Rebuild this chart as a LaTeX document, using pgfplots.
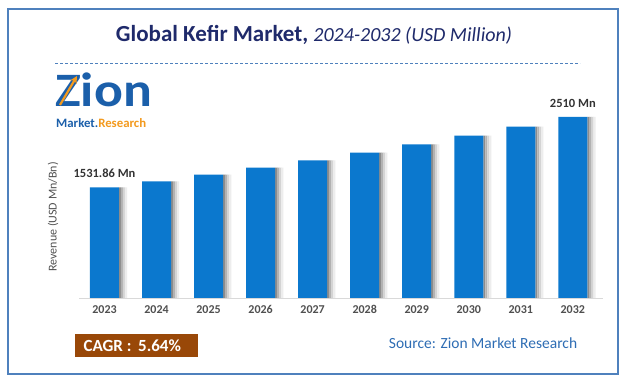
\documentclass[border=0pt]{standalone}
\usepackage{fontspec}
\setmainfont{Carlito}
\usepackage{pgfplots}
\pgfplotsset{compat=1.18}
\definecolor{barblue}{HTML}{0B78CE}
\definecolor{titlenavy}{HTML}{1F2A6B}
\definecolor{borderblue}{HTML}{4F81BD}
\definecolor{srcblue}{HTML}{2E6DB4}
\definecolor{cagrbrown}{HTML}{994808}
\definecolor{logoblue}{HTML}{1B5FAA}
\definecolor{logoorange}{HTML}{F39A1E}
\definecolor{ticklab}{HTML}{505050}
\pgfplotstableread{
year value
2023 1531.86
2024 1618.2
2025 1709.5
2026 1805.9
2027 1907.8
2028 2015.4
2029 2129.1
2030 2249.2
2031 2376.0
2032 2510
}\kefir
\usepackage{pgfplotstable}
\begin{document}
\begin{tikzpicture}[x=1pt,y=1pt]
\useasboundingbox (0,0) rectangle (624,382);
\fill[white] (0,0) rectangle (624,382);
\draw[borderblue, line width=1.1pt] (8,373) rectangle (618,8);
% title
\node[font=\fontsize{23}{26}\selectfont, text=titlenavy] at (314,347)
  {\textbf{Global Kefir Market,} \fontsize{20}{24}\selectfont\itshape 2024-2032 (USD Million)};
\draw[borderblue, dashed, dash pattern=on 3pt off 2pt, line width=0.6pt] (55,319) -- (580,319);
% logo
\node[anchor=base west, inner sep=0, font=\fontsize{48}{48}\selectfont\bfseries, text=logoblue] at (55,275) {\scalebox{1.12}[1]{Zion}};
\draw[logoorange, line width=2.2pt, -stealth] (60,277) -- (77,306);
\node[anchor=base west, inner sep=0, font=\fontsize{12.8}{14}\selectfont\bfseries] at (56,254)
  {\textcolor{logoblue}{Market.}\textcolor{logoorange}{Research}};
% y label
\node[rotate=90, font=\fontsize{12}{14}\selectfont, text=ticklab] at (53,165) {Revenue (USD Mn/Bn)};
% CAGR box
\fill[cagrbrown] (75,25) rectangle (198,48);
\node[anchor=west, font=\fontsize{17}{20}\selectfont\bfseries, text=white] at (80,36.5) {CAGR :\, 5.64\%};
% source
\node[font=\fontsize{15.5}{18}\selectfont, text=srcblue] at (483,39) {Source: Zion Market Research};
\begin{axis}[
  at={(79pt,84pt)}, anchor=south west,
  scale only axis, width=524pt, height=202pt,
  xmin=2022.51, xmax=2032.58, ymin=0, ymax=2800,
  axis y line=none, axis x line*=bottom,
  axis line style={draw=black!15, line width=0.8pt, -},
  xtick={2023,2024,2025,2026,2027,2028,2029,2030,2031,2032},
  xticklabels={2023,2024,2025,2026,2027,2028,2029,2030,2031,2032},
  major tick length=0pt,
  xticklabel style={font=\fontsize{12}{14}\selectfont\bfseries, text=ticklab, yshift=-4pt},
  clip=false,
]
\addplot[ybar, bar width=2.2pt, bar shift=15.6pt, draw=none, fill=black!45] table[x=year,y=value] {\kefir};
\addplot[ybar, bar width=2.2pt, bar shift=17.6pt, draw=none, fill=black!30] table[x=year,y=value] {\kefir};
\addplot[ybar, bar width=2.2pt, bar shift=19.6pt, draw=none, fill=black!17] table[x=year,y=value] {\kefir};
\addplot[ybar, bar width=2.2pt, bar shift=21.6pt, draw=none, fill=black!7] table[x=year,y=value] {\kefir};
\addplot[ybar, bar width=29pt, bar shift=0pt, draw=none, fill=barblue] table[x=year,y=value] {\kefir};
\node[anchor=south, font=\fontsize{12.5}{14}\selectfont\bfseries, text=black!80, yshift=6pt] at (axis cs:2023,1531.86) {1531.86 Mn};
\node[anchor=south, font=\fontsize{12.5}{14}\selectfont\bfseries, text=black!80, yshift=6pt] at (axis cs:2032,2510) {2510 Mn};
\end{axis}
\end{tikzpicture}
\end{document}
